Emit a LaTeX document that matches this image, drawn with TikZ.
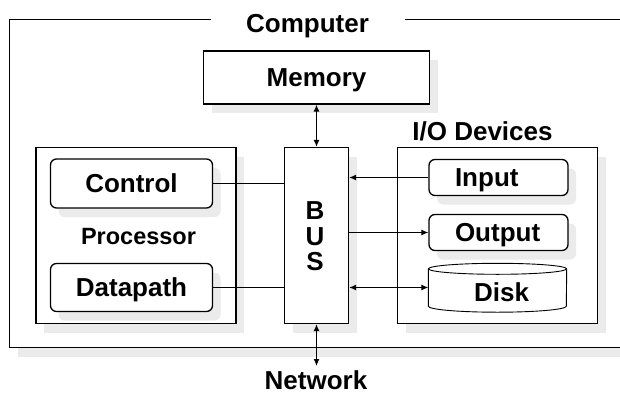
\documentclass[tikz,border=0pt]{standalone}
\usepackage{fontspec}
\setmainfont{Liberation Sans}
\usetikzlibrary{shadows,arrows.meta}

\begin{document}
\begin{tikzpicture}[x=1pt,y=-1pt,
  shd/.style={drop shadow={shadow xshift=8pt,shadow yshift=-9pt,fill=black!8,opacity=1}},
  box/.style={draw,line width=1.3pt,fill=white,inner sep=0pt,shd},
  rbox/.style={box,rounded corners=6pt},
  % text boxes are exactly cap height tall, so a node's centre is the centre of its capitals
  big/.style={font=\fontsize{26}{25.5}\selectfont\bfseries,text height=18.6pt,text depth=0pt},
  proc/.style={font=\fontsize{23.5}{25}\selectfont\bfseries,text height=16.8pt,text depth=0pt},
  conn/.style={line width=1.1pt},
  tip/.tip={Latex[length=7pt,width=6pt]},
]
\clip (0,0) rectangle (620,393);

% enclosing computer frame, its title breaks the top edge
\node[box,minimum width=621,minimum height=328.5,shd/.style={drop shadow={shadow xshift=7pt,shadow yshift=-9pt,fill=black!8,opacity=1}}] (computer) at (320,183.5) {};
\node[big,fill=white,minimum width=194,minimum height=22,inner sep=0pt] (comptitle) at (307.5,23) {Computer};

% memory
\node[box,big,minimum width=226,minimum height=53] (mem) at (316.5,77.5) {Memory};

% processor
\node[box,minimum width=200,minimum height=176] (procbox) at (136,235.5) {};
\node[rbox,big,minimum width=162,minimum height=49] (ctrl) at (131.5,183.5) {Control};
\node[rbox,big,minimum width=162,minimum height=48] (dpath) at (131.5,287.5) {Datapath};
\node[proc] (proclbl) at (138.5,236.5) {Processor};

% bus
\node[box,minimum width=64,minimum height=176] (bus) at (316.5,235.5) {};
\node[big,align=center,inner sep=0pt,text height=,text depth=] (buslbl) at (315,236.5) {B\\U\\S};

% I/O devices
\node[big] (iolbl) at (482.5,131) {I/O Devices};
\node[box,minimum width=200,minimum height=176] (iobox) at (497.5,235.5) {};
\node[rbox,big,minimum height=36,inner xsep=26pt,text width=87pt,align=left] (inp) at (498.5,177.5) {Input};
\node[rbox,big,minimum height=36,inner xsep=26pt,text width=87pt,align=left] (outp) at (498.5,232.5) {Output};

% disk drawn as a cylinder round a plain node
\node[minimum width=138,minimum height=37,inner sep=0pt] (disk) at (497.5,287.5) {};
\draw[line width=0.9pt,fill=white] (disk.north west) -- (disk.south west)
  arc[start angle=180,end angle=0,x radius=69,y radius=6] -- (disk.north east);
\draw[line width=0.9pt] (disk.north) ellipse[x radius=69,y radius=5.5];
\node[big] (disklbl) at (501.5,292.5) {Disk};

% network label below the frame
\node[big,inner sep=1pt] (net) at (316,380.5) {Network};
\coordinate (netend) at (316.5,366);

% connectors
\draw[conn,tip-tip] (bus.north) -- (bus.north |- mem.south);
\draw[conn,tip-tip] (bus.south) -- (netend);
\draw[conn] (ctrl.east) -- (ctrl.east -| bus.west);
\draw[conn] (dpath.east) -- (dpath.east -| bus.west);
\draw[conn,-tip] (inp.west) -- (inp.west -| bus.east);
\draw[conn,-tip] (outp.west -| bus.east) -- (outp.west);
\draw[conn,tip-tip] (disk.west -| bus.east) -- (disk.west);
\end{tikzpicture}
\end{document}
